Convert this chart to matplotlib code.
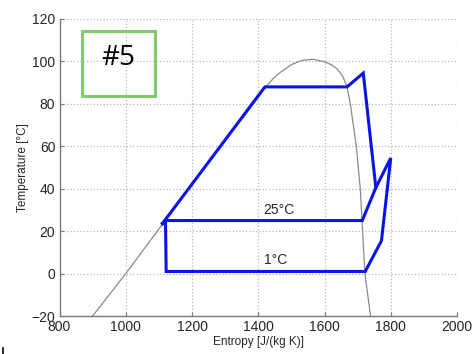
import matplotlib
matplotlib.use("Agg")
import matplotlib.pyplot as plt
from matplotlib.patches import Rectangle
from matplotlib.lines import Line2D

plt.rcParams['font.family'] = ['Liberation Sans', 'DejaVu Sans']

# Saturation dome (entropy J/(kg K), temperature degC)
dome_s = [900, 1000, 1100, 1200, 1300, 1426, 1447, 1467, 1500, 1532, 1565, 1597,
          1620, 1638, 1655, 1668, 1678, 1696, 1708, 1715, 1722, 1739]
dome_T = [-20, 0, 21, 42, 62.5, 88.6, 92.2, 94.9, 98.5, 100.5, 101, 100,
          98.5, 96.5, 93, 88, 80, 60, 40, 20, 0, -20]

# High-temperature loop of the cycle
high_s = [1120, 1108, 1420, 1668, 1717, 1755, 1714, 1120]
high_T = [25, 23, 88, 88, 94.5, 40.5, 25, 25]

# Low-temperature loop of the cycle
low_s = [1120, 1122, 1723, 1772, 1800, 1755]
low_T = [25, 1, 1, 15.5, 54.5, 40.5]

labels = ["25°C", "1°C"]
label_s = [1462, 1452]
label_T = [29.8, 6.2]

xticks = [800, 1000, 1200, 1400, 1600, 1800, 2000]
yticks = [-20, 0, 20, 40, 60, 80, 100, 120]

W, H = 473, 354
fig = plt.figure(figsize=(W / 100, H / 100), dpi=100)
ax = fig.add_axes([59.5 / W, 1 - 316 / H, (457 - 59.5) / W, (316 - 19) / H])

ax.plot(dome_s, dome_T, color='#8a8a8a', lw=0.9, zorder=2)
ax.plot(high_s, high_T, color='#0a14e6', lw=2.2, zorder=3, solid_joinstyle='miter')
ax.plot(low_s, low_T, color='#0a14e6', lw=2.2, zorder=3, solid_joinstyle='miter')

for t, s, T in zip(labels, label_s, label_T):
    ax.text(s, T, t, fontsize=10, color='#262626', ha='center', va='center')

ax.set_xlim(800, 2000)
ax.set_ylim(-20, 120)
ax.set_xticks(xticks)
ax.set_yticks(yticks)
ax.grid(True, linestyle=':', color='#b8b8b8', lw=0.9)
ax.set_axisbelow(True)
for sp in ['top', 'right']:
    ax.spines[sp].set_visible(False)
for sp in ['left', 'bottom']:
    ax.spines[sp].set_color('#7a7a7a')
    ax.spines[sp].set_linewidth(1.0)
ax.tick_params(direction='in', length=3, color='#7a7a7a', labelsize=10,
               labelcolor='#262626', pad=3)
ax.set_xlabel('Entropy [J/(kg K)]', fontsize=8.5, color='#262626', labelpad=1)
ax.set_ylabel('Temperature [°C]', fontsize=8.5, color='#262626', labelpad=2)

# "#5" box
fig.patches.append(Rectangle((82 / W, 1 - 96 / H), 73 / W, 65 / H,
                             transform=fig.transFigure, fill=False,
                             edgecolor='#80cc6c', lw=2.2, zorder=5))
fig.text(118.5 / W, 1 - 58 / H, '#5', fontsize=20, ha='center', va='center',
         color='black', family=['Open Sans', 'DejaVu Sans'])

# small mark bottom-left
fig.add_artist(Line2D([2.5 / W, 2.5 / W], [0, 6 / H], transform=fig.transFigure,
                      color='black', lw=1.2))

fig.savefig('out.png', dpi=100)
